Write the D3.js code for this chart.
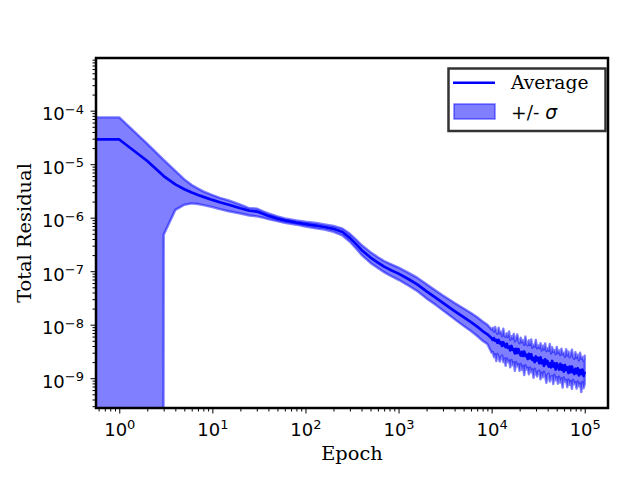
<!DOCTYPE html>
<html>
<head>
<meta charset="utf-8">
<script src="https://cdn.jsdelivr.net/npm/d3@7"></script>
<style>
  html, body { margin: 0; padding: 0; background: #fff; }
  svg { display: block; }
</style>
</head>
<body>
<svg id="chart" width="640" height="480"></svg>
<script>
// Training epochs (epoch 0 sits off the log axis and gets clamped to the left edge)
const epochs = [
  0, 1, 2, 3, 4, 5, 6, 7, 8, 10, 12, 15, 20, 25, 30, 35, 40, 50, 60, 80,
  100, 130, 160, 200, 250, 300, 350, 400, 500, 600, 700, 800,
  1000, 1300, 1600, 2000, 2500, 3000, 4000, 5000, 6000, 7000, 8000, 9000,
  10000, 10290, 10590, 10890, 11220, 11550, 11890, 12230, 12590, 12960,
  13340, 13720, 14130, 14540, 14960, 15400, 15850, 16310, 16790, 17280,
  17780, 18300, 18840, 19390, 19950, 20540, 21130, 21750, 22390, 23040,
  23710, 24400, 25120, 25850, 26610, 27380, 28180, 29010, 29850, 30730,
  31620, 32540, 33500, 34470, 35480, 36520, 37580, 38680, 39810, 40970,
  42170, 43400, 44670, 45970, 47320, 48700, 50120, 51580, 53090, 54640,
  56230, 57870, 59570, 61310, 63100, 64940, 66830, 68790, 70790, 72860,
  74990, 77180, 79430, 81750, 84140, 86600, 89130, 91730, 94410, 97160,
  100000
];

const average = [
  2.9e-5, 2.9e-5, 1.15e-5, 6.0e-6, 4.2e-6, 3.4e-6, 2.95e-6, 2.65e-6, 2.45e-6, 2.15e-6,
  1.95e-6, 1.75e-6, 1.5e-6, 1.35e-6, 1.3e-6, 1.18e-6, 1.08e-6, 9.6e-7, 8.9e-7, 8.1e-7,
  7.6e-7, 7.1e-7, 6.7e-7, 6.2e-7, 5.4e-7, 4.2e-7, 3.2e-7, 2.5e-7, 1.8e-7, 1.45e-7, 1.22e-7, 1.08e-7,
  9.0e-8, 7.0e-8, 5.6e-8, 4.2e-8, 3.2e-8, 2.55e-8, 1.8e-8, 1.38e-8, 1.12e-8, 9.2e-9, 7.6e-9, 6.6e-9,
  5.6e-9, 5.2e-9, 5.6e-9, 5.0e-9, 5.2e-9, 4.6e-9, 5.2e-9, 4.5e-9, 4.7e-9, 4.0e-9,
  4.7e-9, 4.2e-9, 3.8e-9, 4.4e-9, 3.7e-9, 3.9e-9, 3.3e-9, 4.0e-9, 3.4e-9, 3.5e-9,
  2.9e-9, 3.55e-9, 2.95e-9, 3.5e-9, 3.0e-9, 2.65e-9, 3.1e-9, 2.6e-9, 3.15e-9, 2.6e-9,
  2.75e-9, 2.3e-9, 2.85e-9, 2.35e-9, 2.8e-9, 2.2e-9, 2.4e-9, 2.0e-9, 2.55e-9, 2.15e-9,
  2.4e-9, 1.9e-9, 2.45e-9, 1.9e-9, 2.15e-9, 1.7e-9, 2.25e-9, 1.85e-9, 2.1e-9, 1.65e-9,
  1.9e-9, 1.6e-9, 2.1e-9, 1.65e-9, 1.9e-9, 1.45e-9, 1.9e-9, 1.65e-9, 1.45e-9, 1.85e-9,
  1.45e-9, 1.75e-9, 1.33e-9, 1.75e-9, 1.42e-9, 1.6e-9, 1.25e-9, 1.65e-9, 1.3e-9, 1.65e-9,
  1.32e-9, 1.2e-9, 1.5e-9, 1.24e-9, 1.53e-9, 1.13e-9, 1.42e-9, 1.2e-9, 1.45e-9, 1.1e-9,
  1.33e-9
];

// average + sigma
const upper = [
  7.5e-5, 7.5e-5, 2.4e-5, 1.2e-5, 7.5e-6, 5.2e-6, 4.1e-6, 3.5e-6, 3.1e-6, 2.65e-6,
  2.35e-6, 2.1e-6, 1.75e-6, 1.5e-6, 1.48e-6, 1.32e-6, 1.2e-6, 1.06e-6, 9.7e-7, 8.9e-7,
  8.4e-7, 8.0e-7, 7.5e-7, 7.0e-7, 6.25e-7, 5.0e-7, 3.9e-7, 3.08e-7, 2.27e-7, 1.83e-7, 1.55e-7, 1.39e-7,
  1.17e-7, 9.2e-8, 7.5e-8, 5.7e-8, 4.35e-8, 3.5e-8, 2.55e-8, 2.0e-8, 1.65e-8, 1.38e-8, 1.15e-8, 1.0e-8,
  8.1e-9, 8.75e-9, 7.4e-9, 9.1e-9, 7.4e-9, 6.7e-9, 8.8e-9, 6.9e-9, 7.4e-9, 6.1e-9,
  8.4e-9, 6.3e-9, 5.9e-9, 6.9e-9, 5.9e-9, 7.5e-9, 5.2e-9, 6.1e-9, 5.5e-9, 6.7e-9,
  4.9e-9, 5.4e-9, 6.6e-9, 5.0e-9, 4.5e-9, 5.7e-9, 4.7e-9, 5.1e-9, 4.2e-9, 6.0e-9,
  4.35e-9, 4.1e-9, 5.1e-9, 4.15e-9, 5.3e-9, 3.7e-9, 4.2e-9, 3.9e-9, 5.2e-9, 3.6e-9,
  4.1e-9, 3.65e-9, 4.5e-9, 3.3e-9, 4.05e-9, 3.45e-9, 4.45e-9, 3.2e-9, 3.65e-9, 3.25e-9,
  4.35e-9, 2.9e-9, 3.8e-9, 3.1e-9, 3.35e-9, 2.8e-9, 3.85e-9, 2.95e-9, 3.3e-9, 2.7e-9,
  3.55e-9, 2.8e-9, 3.0e-9, 2.5e-9, 3.5e-9, 2.65e-9, 3.15e-9, 2.45e-9, 2.8e-9, 3.4e-9,
  2.5e-9, 2.3e-9, 3.05e-9, 2.4e-9, 2.75e-9, 2.15e-9, 3.0e-9, 2.3e-9, 2.5e-9, 2.1e-9,
  2.65e-9
];

// average - sigma (non-positive values fall off the bottom of the log axis)
const lower = [
  0, 0, 0, 4.8e-7, 1.4e-6, 1.75e-6, 1.85e-6, 1.8e-6, 1.72e-6, 1.58e-6,
  1.45e-6, 1.32e-6, 1.2e-6, 1.1e-6, 1.06e-6, 1.0e-6, 9.4e-7, 8.6e-7, 8.0e-7, 7.4e-7,
  6.85e-7, 6.3e-7, 6.0e-7, 5.45e-7, 4.65e-7, 3.55e-7, 2.65e-7, 2.03e-7, 1.43e-7, 1.15e-7, 9.6e-8, 8.4e-8,
  6.9e-8, 5.3e-8, 4.2e-8, 3.1e-8, 2.35e-8, 1.85e-8, 1.27e-8, 9.5e-9, 7.6e-9, 6.15e-9, 5.0e-9, 4.35e-9,
  3.0e-9, 3.1e-9, 2.5e-9, 2.8e-9, 2.1e-9, 2.85e-9, 2.5e-9, 2.05e-9, 2.5e-9, 2.65e-9,
  2.0e-9, 2.35e-9, 1.7e-9, 2.35e-9, 2.0e-9, 2.15e-9, 1.6e-9, 2.2e-9, 1.75e-9, 1.98e-9,
  1.38e-9, 2.0e-9, 1.68e-9, 1.82e-9, 1.37e-9, 1.84e-9, 1.43e-9, 1.69e-9, 1.14e-9, 1.75e-9,
  1.45e-9, 1.57e-9, 1.18e-9, 1.58e-9, 1.29e-9, 1.46e-9, 1.02e-9, 1.51e-9, 1.25e-9, 1.08e-9,
  1.33e-9, 1.38e-9, 9.5e-10, 1.27e-9, 1.04e-9, 1.32e-9, 1.1e-9, 8.2e-10, 1.17e-9, 1.22e-9,
  8.7e-10, 1.06e-9, 1.1e-9, 7.8e-10, 1.16e-9, 9.2e-10, 1.04e-9, 7.9e-10, 1.07e-9, 8.3e-10,
  9.9e-10, 6.7e-10, 1.03e-9, 8.6e-10, 9.3e-10, 6.8e-10, 9.5e-10, 7.5e-10, 8.9e-10, 6.3e-10,
  9.3e-10, 7.8e-10, 8.4e-10, 6.4e-10, 8.7e-10, 7.1e-10, 8.1e-10, 5.5e-10, 8.5e-10, 6.5e-10,
  7.7e-10
];

const xTickExponents = [0, 1, 2, 3, 4, 5];
const yTickExponents = [-9, -8, -7, -6, -5, -4];
const legendLabels = ["Average", "+/- \u03c3"];

const plot = { left: 96, right: 608, top: 58, bottom: 408 };
const serif = "'DejaVu Serif', serif";
const sans = "'DejaVu Sans', sans-serif";

const rows = epochs.map((e, i) => ({ epoch: e, avg: average[i], hi: upper[i], lo: lower[i] }));

const x = d3.scaleLog()
  .domain([Math.pow(10, -0.25), Math.pow(10, 5.25)])
  .range([plot.left, plot.right]);

const y = d3.scaleLog()
  .domain([Math.pow(10, -9.557), Math.pow(10, -3.015)])
  .range([plot.bottom, plot.top]);

// log axes can't show 0, so push those points far outside and let the clip cut them
const px = (d) => x(Math.max(d.epoch, 1e-3));
const py = (v) => y(Math.max(v, 1e-300));

const svg = d3.select("#chart");

svg.append("defs")
  .append("clipPath")
  .attr("id", "plot-clip")
  .append("rect")
  .attr("x", plot.left)
  .attr("y", plot.top)
  .attr("width", plot.right - plot.left)
  .attr("height", plot.bottom - plot.top);

const body = svg.append("g").attr("clip-path", "url(#plot-clip)");

const band = d3.area()
  .x(px)
  .y0((d) => py(d.lo))
  .y1((d) => py(d.hi));

body.append("path")
  .datum(rows)
  .attr("d", band)
  .attr("fill", "blue")
  .attr("fill-opacity", 0.5)
  .attr("stroke", "blue")
  .attr("stroke-opacity", 0.5)
  .attr("stroke-width", 2.4)
  .attr("stroke-linejoin", "round");

const line = d3.line()
  .x(px)
  .y((d) => py(d.avg));

body.append("path")
  .datum(rows)
  .attr("d", line)
  .attr("fill", "none")
  .attr("stroke", "blue")
  .attr("stroke-width", 2.7)
  .attr("stroke-linejoin", "round");

// tick values: majors at the decades, minors at 2..9 of each decade
const isDecade = (v) => Math.abs(Math.log10(v) - Math.round(Math.log10(v))) < 1e-9;
const xMajor = xTickExponents.map((p) => Math.pow(10, p));
const yMajor = yTickExponents.map((p) => Math.pow(10, p));
const xMinor = x.ticks().filter((v) => !isDecade(v));
const yMinor = y.ticks().filter((v) => !isDecade(v));

function powerLabel(text, exp) {
  text.text(null);
  text.append("tspan").text("10");
  text.append("tspan")
    .attr("dy", -6.5)
    .attr("font-size", 13)
    .text(exp < 0 ? "\u2212" + -exp : String(exp));
}

function styleAxis(g) {
  g.select(".domain").remove();
  g.selectAll(".tick line").attr("stroke", "#000").attr("stroke-width", 1);
}

const xAxisG = svg.append("g").attr("transform", `translate(0,${plot.bottom})`);
xAxisG.append("g")
  .call(d3.axisBottom(x).tickValues(xMinor).tickSize(3.5).tickFormat(""))
  .call(styleAxis);
xAxisG.append("g")
  .call(d3.axisBottom(x).tickValues(xMajor).tickSize(5.5).tickFormat(""))
  .call(styleAxis)
  .selectAll(".tick text")
  .attr("y", 27.5)
  .attr("dy", null)
  .attr("fill", "#000")
  .attr("font-family", sans)
  .attr("font-size", 18)
  .each(function (d) { powerLabel(d3.select(this), Math.round(Math.log10(d))); });

const yAxisG = svg.append("g").attr("transform", `translate(${plot.left},0)`);
yAxisG.append("g")
  .call(d3.axisLeft(y).tickValues(yMinor).tickSize(3.5).tickFormat(""))
  .call(styleAxis);
yAxisG.append("g")
  .call(d3.axisLeft(y).tickValues(yMajor).tickSize(5.5).tickFormat(""))
  .call(styleAxis)
  .selectAll(".tick text")
  .attr("x", -12)
  .attr("dy", 9)
  .attr("fill", "#000")
  .attr("font-family", sans)
  .attr("font-size", 18)
  .each(function (d) { powerLabel(d3.select(this), Math.round(Math.log10(d))); });

// frame goes on top of the data, like matplotlib spines
svg.append("rect")
  .attr("x", plot.left)
  .attr("y", plot.top)
  .attr("width", plot.right - plot.left)
  .attr("height", plot.bottom - plot.top)
  .attr("fill", "none")
  .attr("stroke", "#000")
  .attr("stroke-width", 2.5);

svg.append("text")
  .attr("x", (plot.left + plot.right) / 2)
  .attr("y", 460)
  .attr("text-anchor", "middle")
  .attr("font-family", serif)
  .attr("font-size", 19.4)
  .text("Epoch");

svg.append("text")
  .attr("transform", `translate(31,${(plot.top + plot.bottom) / 2}) rotate(-90)`)
  .attr("text-anchor", "middle")
  .attr("font-family", serif)
  .attr("font-size", 19.4)
  .text("Total Residual");

// legend
const legend = svg.append("g");

legend.append("rect")
  .attr("x", 448.5)
  .attr("y", 68.5)
  .attr("width", 157)
  .attr("height", 62.5)
  .attr("fill", "#fff")
  .attr("stroke", "#333")
  .attr("stroke-width", 2.5);

legend.append("line")
  .attr("x1", 453)
  .attr("x2", 495)
  .attr("y1", 82.7)
  .attr("y2", 82.7)
  .attr("stroke", "blue")
  .attr("stroke-width", 2.5);

legend.append("rect")
  .attr("x", 454)
  .attr("y", 104)
  .attr("width", 41)
  .attr("height", 15)
  .attr("fill", "blue")
  .attr("fill-opacity", 0.5)
  .attr("stroke", "blue")
  .attr("stroke-opacity", 0.5)
  .attr("stroke-width", 1.5);

legend.append("text")
  .attr("x", 511)
  .attr("y", 88.5)
  .attr("font-family", serif)
  .attr("font-size", 18.7)
  .text(legendLabels[0]);

const sigmaText = legend.append("text")
  .attr("x", 511)
  .attr("y", 118.5)
  .attr("font-family", serif)
  .attr("font-size", 18.7);
sigmaText.append("tspan").text(legendLabels[1].slice(0, -1));
sigmaText.append("tspan")
  .attr("font-family", sans)
  .attr("font-style", "italic")
  .text(legendLabels[1].slice(-1));
</script>
</body>
</html>
